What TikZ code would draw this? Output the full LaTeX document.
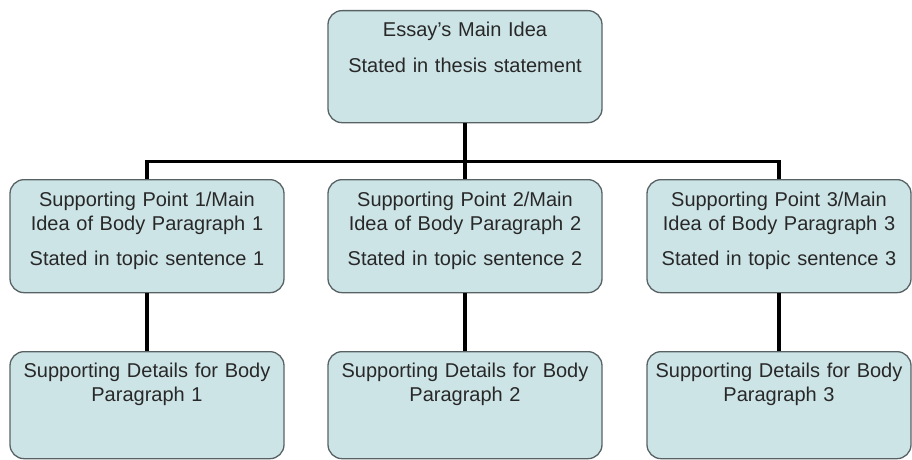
\documentclass[tikz,border=0pt]{standalone}
\usepackage{fontspec}
\setmainfont{Liberation Sans}

\definecolor{boxfill}{RGB}{205,228,231}
\definecolor{boxline}{RGB}{88,98,100}
\definecolor{boxtext}{RGB}{40,40,40}

\begin{document}
\begin{tikzpicture}[x=1pt,y=-1pt,
   idea/.style={draw=boxline, line width=1.3pt, fill=boxfill, rounded corners=14pt,
     text=boxtext, anchor=north, inner xsep=4pt, inner ysep=0pt,
     text width=266pt, align=center, font=\fontsize{20}{24}\selectfont},
   link/.style={line width=3.5pt}]

   \useasboundingbox (0,0) rectangle (912,460);

   % essay level
   \node[idea, text height=26pt, text depth=86pt] (main) at (465,10)
     {Essay's Main Idea\\[12pt]Stated in thesis statement};

   % body paragraphs
   \foreach \i/\x/\w in {1/147/266, 2/465/266, 3/779/256} {
     \node[idea, text width=\w pt, text height=27pt, text depth=86pt] (sp\i) at (\x,179)
       {Supporting Point \i/Main\\Idea of Body Paragraph \i\\[11pt]Stated in topic sentence \i};
     \node[idea, text width=\w pt, text height=26pt, text depth=81pt] (sd\i) at (\x,351)
       {Supporting Details for Body\\Paragraph \i};
     \draw[link] (sp\i) -- (sd\i);
   }

   \draw[link] (main.south) -- ++(0,38) coordinate (bar);
   \draw[link] (sp1.north) |- (bar) -| (sp3.north);
   \draw[link] (bar) -- (sp2.north);
\end{tikzpicture}
\end{document}
